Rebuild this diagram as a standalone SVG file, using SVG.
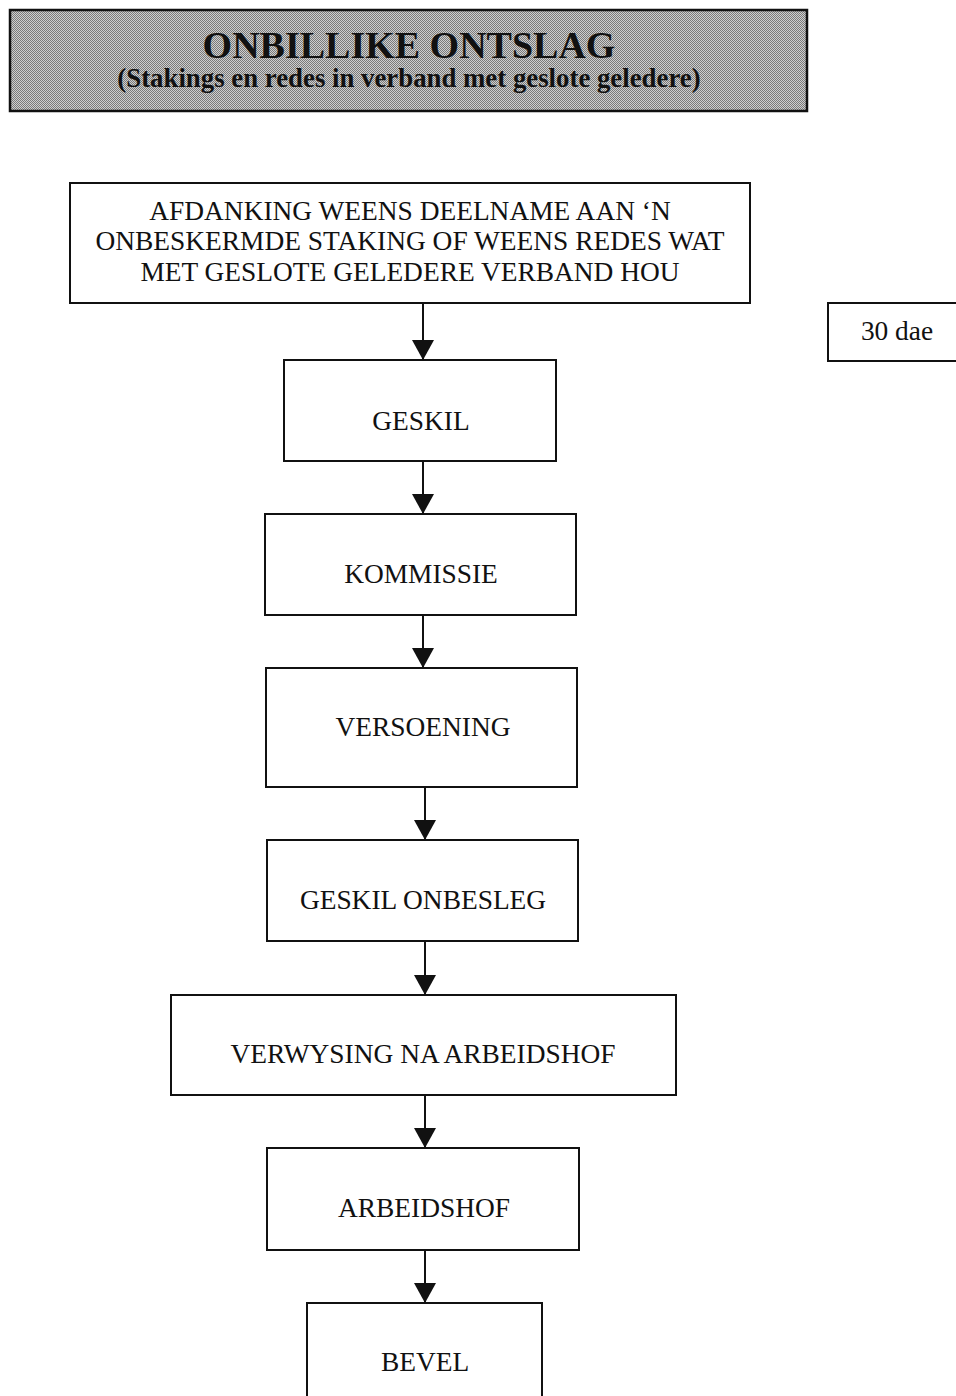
<svg xmlns="http://www.w3.org/2000/svg" width="956" height="1396" viewBox="0 0 956 1396">
<style>
.box{fill:#fff;stroke:#111;stroke-width:2}
.t{font-family:"Liberation Serif","Times New Roman",serif;font-size:27.4px;fill:#111;text-anchor:middle}
.h{font-family:"Liberation Serif","Times New Roman",serif;font-weight:bold;fill:#111;text-anchor:middle}
.c{stroke:#111;stroke-width:2;fill:none}
</style>
<defs>
<pattern id="dither" width="2" height="2" patternUnits="userSpaceOnUse">
<rect width="2" height="2" fill="#cfcfcf"/>
<rect width="1" height="1" fill="#7a7a7a"/>
<rect x="1" y="1" width="1" height="1" fill="#7a7a7a"/>
</pattern>
<marker id="arr" markerWidth="20" markerHeight="22" refX="20" refY="11" orient="auto" markerUnits="userSpaceOnUse" viewBox="0 0 20 22">
<path d="M0,0 L20,11 L0,22 Z" fill="#111"/>
</marker>
</defs>
<rect width="956" height="1396" fill="#fff"/>

<g id="header">
<rect x="10" y="10" width="797" height="101" fill="url(#dither)" stroke="#111" stroke-width="2.5"/>
<text class="h" x="409" y="58" font-size="38">ONBILLIKE ONTSLAG</text>
<text class="h" x="409" y="87" font-size="26.8">(Stakings en redes in verband met geslote geledere)</text>
</g>

<g id="n1">
<rect class="box" x="70" y="183" width="680" height="120"/>
<text class="t" x="410" y="220">AFDANKING WEENS DEELNAME AAN ‘N</text>
<text class="t" x="410" y="250">ONBESKERMDE STAKING OF WEENS REDES WAT</text>
<text class="t" x="410" y="281">MET GESLOTE GELEDERE VERBAND HOU</text>
</g>

<g id="n-30dae">
<rect class="box" x="828" y="303" width="132" height="58"/>
<text class="t" x="897" y="340">30 dae</text>
</g>

<g id="n2">
<rect class="box" x="284" y="360" width="272" height="101"/>
<text class="t" x="421" y="430">GESKIL</text>
</g>

<g id="n3">
<rect class="box" x="265" y="514" width="311" height="101"/>
<text class="t" x="421" y="583">KOMMISSIE</text>
</g>

<g id="n4">
<rect class="box" x="266" y="668" width="311" height="119"/>
<text class="t" x="423" y="736">VERSOENING</text>
</g>

<g id="n5">
<rect class="box" x="267" y="840" width="311" height="101"/>
<text class="t" x="423" y="909">GESKIL ONBESLEG</text>
</g>

<g id="n6">
<rect class="box" x="171" y="995" width="505" height="100"/>
<text class="t" x="423" y="1063">VERWYSING NA ARBEIDSHOF</text>
</g>

<g id="n7">
<rect class="box" x="267" y="1148" width="312" height="102"/>
<text class="t" x="424" y="1217">ARBEIDSHOF</text>
</g>

<g id="n8">
<rect class="box" x="307" y="1303" width="235" height="100"/>
<text class="t" x="425" y="1371">BEVEL</text>
</g>

<g id="connectors">
<line class="c" x1="423" y1="304" x2="423" y2="360" marker-end="url(#arr)"/>
<line class="c" x1="423" y1="462" x2="423" y2="514" marker-end="url(#arr)"/>
<line class="c" x1="423" y1="616" x2="423" y2="668" marker-end="url(#arr)"/>
<line class="c" x1="425" y1="788" x2="425" y2="840" marker-end="url(#arr)"/>
<line class="c" x1="425" y1="942" x2="425" y2="995" marker-end="url(#arr)"/>
<line class="c" x1="425" y1="1096" x2="425" y2="1148" marker-end="url(#arr)"/>
<line class="c" x1="425" y1="1251" x2="425" y2="1303" marker-end="url(#arr)"/>
</g>
</svg>
